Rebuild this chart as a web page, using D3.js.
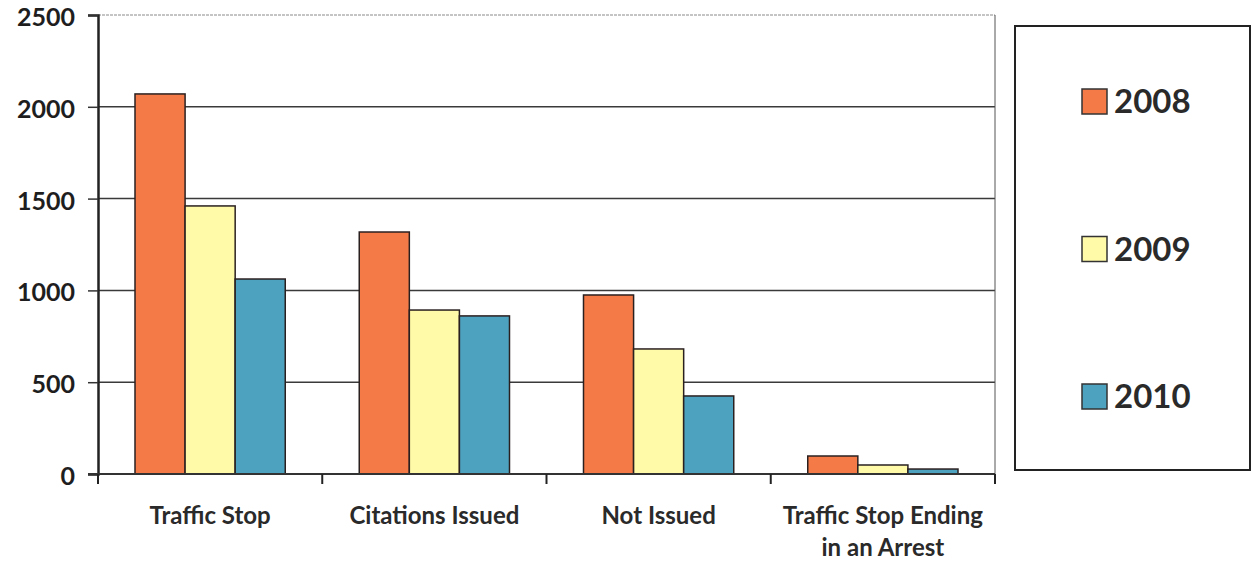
<!DOCTYPE html>
<html>
<head>
<meta charset="utf-8">
<script src="https://cdn.jsdelivr.net/npm/d3@7"></script>
<style>
  body { margin: 0; background: #fff; }
  svg { display: block; font-family: Lato, "Open Sans", sans-serif; }
</style>
</head>
<body>
<svg id="chart" width="1253" height="564"></svg>
<script>
"use strict";

// data
const categories = ["Traffic Stop", "Citations Issued", "Not Issued", "Traffic Stop Ending|in an Arrest"];
const years = ["2008", "2009", "2010"];
const values2008 = [2070, 1318, 975, 98];
const values2009 = [1460, 893, 681, 49];
const values2010 = [1062, 861, 425, 27];
const yTicks = [0, 500, 1000, 1500, 2000, 2500];
const colors = ["#F47B48", "#FFFAA8", "#4DA2BF"];

const series = [values2008, values2009, values2010];

const svg = d3.select("#chart");
const plotLeft = 98, plotRight = 995, plotTop = 15, plotBottom = 474;

const x = d3.scaleBand().domain(categories).range([plotLeft, plotRight]).paddingInner(0.33).paddingOuter(0.165);
const xSub = d3.scaleBand().domain(years).range([0, x.bandwidth()]);
const y = d3.scaleLinear().domain([0, 2500]).range([plotBottom, plotTop]);

// gridlines
svg.append("g")
  .selectAll("line")
  .data(yTicks.filter(d => d > 0))
  .enter()
  .append("line")
  .attr("x1", plotLeft)
  .attr("x2", plotRight)
  .attr("y1", d => y(d))
  .attr("y2", d => y(d))
  .attr("stroke", d => d === 2500 ? "#8a8a8a" : "#3a3a3a")
  .attr("stroke-width", d => d === 2500 ? 1 : 1.5)
  .attr("stroke-dasharray", d => d === 2500 ? "3,1" : null);

// right border of the plot
svg.append("line")
  .attr("x1", plotRight).attr("x2", plotRight)
  .attr("y1", plotTop).attr("y2", plotBottom)
  .attr("stroke", "#555").attr("stroke-width", 1);

// bars
const groups = svg.append("g")
  .selectAll("g")
  .data(categories)
  .enter()
  .append("g")
  .attr("transform", d => "translate(" + x(d) + ",0)");

groups.selectAll("rect")
  .data((d, i) => years.map((yr, j) => ({ year: yr, value: series[j][i], color: colors[j] })))
  .enter()
  .append("rect")
  .attr("x", d => xSub(d.year))
  .attr("width", xSub.bandwidth())
  .attr("y", d => y(d.value))
  .attr("height", d => y(0) - y(d.value))
  .attr("fill", d => d.color)
  .attr("stroke", "#2a2020")
  .attr("stroke-width", 1.5);

// y axis
const yAxis = svg.append("g")
  .attr("transform", "translate(" + plotLeft + ",0)")
  .call(d3.axisLeft(y).tickValues(yTicks).tickFormat(d3.format("d")).tickSize(10).tickPadding(13));
yAxis.attr("font-family", null);
yAxis.select(".domain").attr("stroke", "#222").attr("stroke-width", 2.5);
yAxis.selectAll(".tick line").attr("stroke", "#333").attr("stroke-width", 1.5);
yAxis.selectAll(".tick text")
  .attr("font-size", 25)
  .attr("dy", "0.42em")
  .attr("font-weight", "bold")
  .attr("fill", "#1e1e1e");

// x axis line and ticks at the category boundaries
svg.append("line")
  .attr("x1", plotLeft - 10).attr("x2", plotRight)
  .attr("y1", plotBottom).attr("y2", plotBottom)
  .attr("stroke", "#333").attr("stroke-width", 2);

const boundaries = d3.range(categories.length + 1).map(i => plotLeft + i * (plotRight - plotLeft) / categories.length);
svg.append("g")
  .selectAll("line")
  .data(boundaries)
  .enter()
  .append("line")
  .attr("x1", d => d).attr("x2", d => d)
  .attr("y1", plotBottom).attr("y2", plotBottom + 10)
  .attr("stroke", "#222").attr("stroke-width", 2);

// x labels
const xLabels = svg.append("g")
  .selectAll("text")
  .data(categories)
  .enter()
  .append("text")
  .attr("x", d => x(d) + x.bandwidth() / 2)
  .attr("y", 524)
  .attr("text-anchor", "middle")
  .attr("font-size", 24)
  .attr("font-weight", "bold")
  .attr("fill", "#2a2a2a");

xLabels.each(function (d) {
  const parts = d.split("|");
  const t = d3.select(this);
  parts.forEach((p, i) => {
    t.append("tspan")
      .attr("x", t.attr("x"))
      .attr("dy", i === 0 ? 0 : 32)
      .text(p);
  });
});

// legend
const legend = svg.append("g");
legend.append("rect")
  .attr("x", 1015).attr("y", 26)
  .attr("width", 235).attr("height", 444)
  .attr("fill", "#fff")
  .attr("stroke", "#222").attr("stroke-width", 2);

const legendY = d3.scalePoint().domain(years).range([101, 396]);
const items = legend.selectAll("g.item")
  .data(years)
  .enter()
  .append("g")
  .attr("class", "item")
  .attr("transform", d => "translate(1082," + legendY(d) + ")");

items.append("rect")
  .attr("x", 0).attr("y", -12)
  .attr("width", 25).attr("height", 25)
  .attr("fill", (d, i) => colors[i])
  .attr("stroke", "#333").attr("stroke-width", 1.5);

items.append("text")
  .attr("x", 32)
  .attr("y", 12)
  .attr("font-size", 33)
  .attr("font-weight", "bold")
  .attr("fill", "#2a2a2a")
  .text(d => d);
</script>
</body>
</html>
